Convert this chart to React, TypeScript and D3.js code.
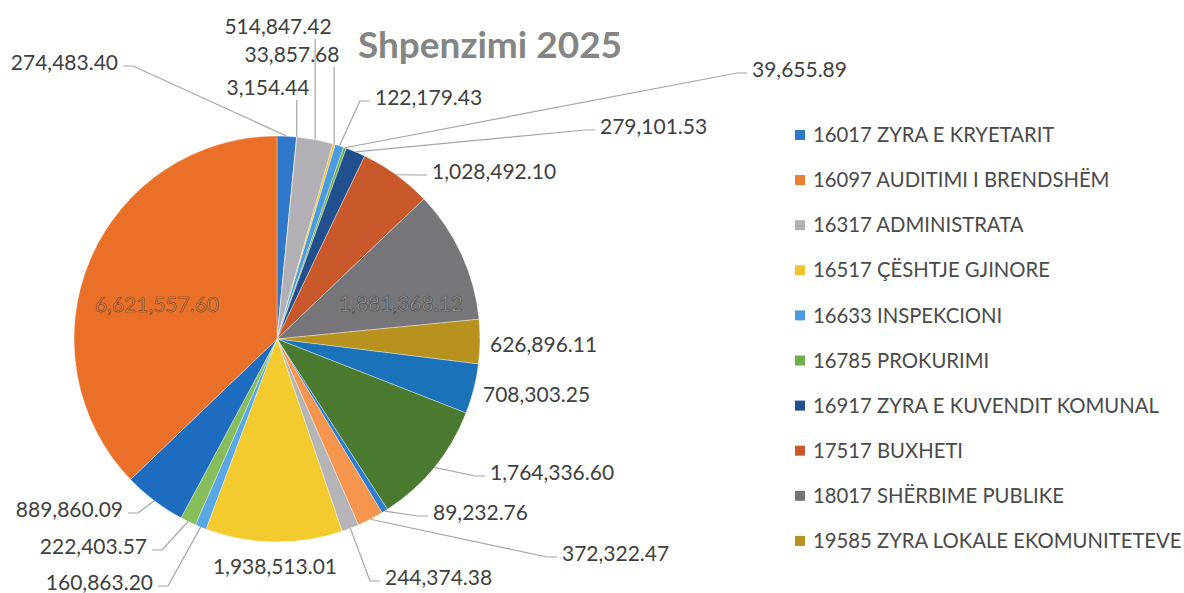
import React from "react";
import * as d3 from "d3";

// ---- data ----
const title = "Shpenzimi 2025";
const legendNames = [
  "16017 ZYRA E KRYETARIT",
  "16097 AUDITIMI I BRENDSHËM",
  "16317 ADMINISTRATA",
  "16517 ÇËSHTJE GJINORE",
  "16633 INSPEKCIONI",
  "16785 PROKURIMI",
  "16917 ZYRA E KUVENDIT KOMUNAL",
  "17517 BUXHETI",
  "18017 SHËRBIME PUBLIKE",
  "19585 ZYRA LOKALE EKOMUNITETEVE",
];
const values = [
  274483.4, 3154.44, 514847.42, 33857.68, 122179.43, 39655.89, 279101.53,
  1028492.1, 1881368.12, 626896.11, 708303.25, 1764336.6, 89232.76,
  372322.47, 244374.38, 1938513.01, 160863.2, 222403.57, 889860.09,
  6621557.6,
];
const sliceColors = [
  "#2F78C9", "#ED7D31", "#B3B0B5", "#F2C12E", "#4A9BE0", "#6FB04A",
  "#22508E", "#C8582A", "#76767A", "#B8921E", "#1B72B8", "#4A7A2F",
  "#2F7DD0", "#F5954E", "#B5B5B8", "#F4CB2F", "#5AA7E6", "#86BE5C",
  "#1D6CC0", "#EA702A",
];

// ---- layout (label placement) ----
type Lay = { x: number; y: number; a: "start" | "end" | "middle"; m: "v" | "s" | "none" | "in" };
const labelLayout: Lay[] = [
  { x: 118, y: 63, a: "end", m: "s" },
  { x: 268, y: 88, a: "middle", m: "v" },
  { x: 278, y: 27, a: "middle", m: "v" },
  { x: 292, y: 55, a: "middle", m: "v" },
  { x: 375, y: 98, a: "start", m: "s" },
  { x: 752, y: 70, a: "start", m: "s" },
  { x: 600, y: 127, a: "start", m: "s" },
  { x: 432, y: 172, a: "start", m: "s" },
  { x: 401, y: 304, a: "middle", m: "in" },
  { x: 490, y: 345, a: "start", m: "none" },
  { x: 483, y: 395, a: "start", m: "none" },
  { x: 490, y: 473, a: "start", m: "s" },
  { x: 433, y: 513, a: "start", m: "s" },
  { x: 562, y: 554, a: "start", m: "s" },
  { x: 385, y: 578, a: "start", m: "s" },
  { x: 275, y: 567, a: "middle", m: "none" },
  { x: 153, y: 583, a: "end", m: "s" },
  { x: 147, y: 547, a: "end", m: "s" },
  { x: 123, y: 510, a: "end", m: "s" },
  { x: 157, y: 305, a: "middle", m: "in" },
];

const W = 1184;
const H = 593;
const cx = 277;
const cy = 339;
const R = 203;
const FONT = "Lato, 'Open Sans', sans-serif";

export default function App() {
  const pie = d3.pie<number>().sort(null).value((d) => d).startAngle(0).endAngle(2 * Math.PI);
  const arcs = pie(values);
  const arcGen = d3.arc<d3.PieArcDatum<number>>().innerRadius(0).outerRadius(R);
  const edgeArc = d3.arc<d3.PieArcDatum<number>>().innerRadius(R).outerRadius(R);
  const fmt = d3.format(",.2f");

  return (
    <svg
      width={W}
      height={H}
      style={{ position: "absolute", left: 0, top: 0, background: "#fff" }}
      fontFamily={FONT}
    >
      <text x={490} y={58} textAnchor="middle" fontSize={37} fontWeight={700} fill="#858585">
        {title}
      </text>
      <g transform={`translate(${cx},${cy})`}>
        {arcs.map((a, i) => (
          <path key={i} d={arcGen(a) || ""} fill={sliceColors[i]} stroke="#ffffff" strokeWidth={0.6} strokeOpacity={0.6} />
        ))}
      </g>
      {arcs.map((a, i) => {
        const L = labelLayout[i];
        const [ex, ey] = edgeArc.centroid(a);
        const px = cx + ex;
        const py = cy + ey;
        let line: React.ReactNode = null;
        if (L.m === "v") {
          line = <polyline points={`${px},${L.y + 12} ${px},${py}`} fill="none" stroke="#a6a6a6" strokeWidth={1.2} />;
        } else if (L.m === "s") {
          const sx = L.a === "end" ? L.x + 5 : L.x - 5;
          const hx = L.a === "end" ? sx + 10 : sx - 10;
          const sy = L.y + 3;
          line = <polyline points={`${sx},${sy} ${hx},${sy} ${px},${py}`} fill="none" stroke="#a6a6a6" strokeWidth={1.2} />;
        }
        const inside = L.m === "in";
        return (
          <g key={i}>
            {line}
            <text
              x={L.x}
              y={L.y}
              dy="0.35em"
              textAnchor={L.a}
              fontSize={21}
              fill={inside ? (i === 19 ? "#E8864A" : "#9a9a9a") : "#404040"}
              stroke={inside ? (i === 19 ? "#8a4a22" : "#505050") : "none"}
              strokeWidth={inside ? 0.7 : 0}
            >
              {fmt(values[i])}
            </text>
          </g>
        );
      })}
      <g>
        {legendNames.map((n, i) => (
          <g key={i} transform={`translate(795,${135 + i * 45.1})`}>
            <rect x={0} y={-5} width={10} height={10} fill={sliceColors[i]} />
            <text x={18} y={0} dy="0.35em" fontSize={20.3} fill="#4a4a4a">
              {n}
            </text>
          </g>
        ))}
      </g>
    </svg>
  );
}
